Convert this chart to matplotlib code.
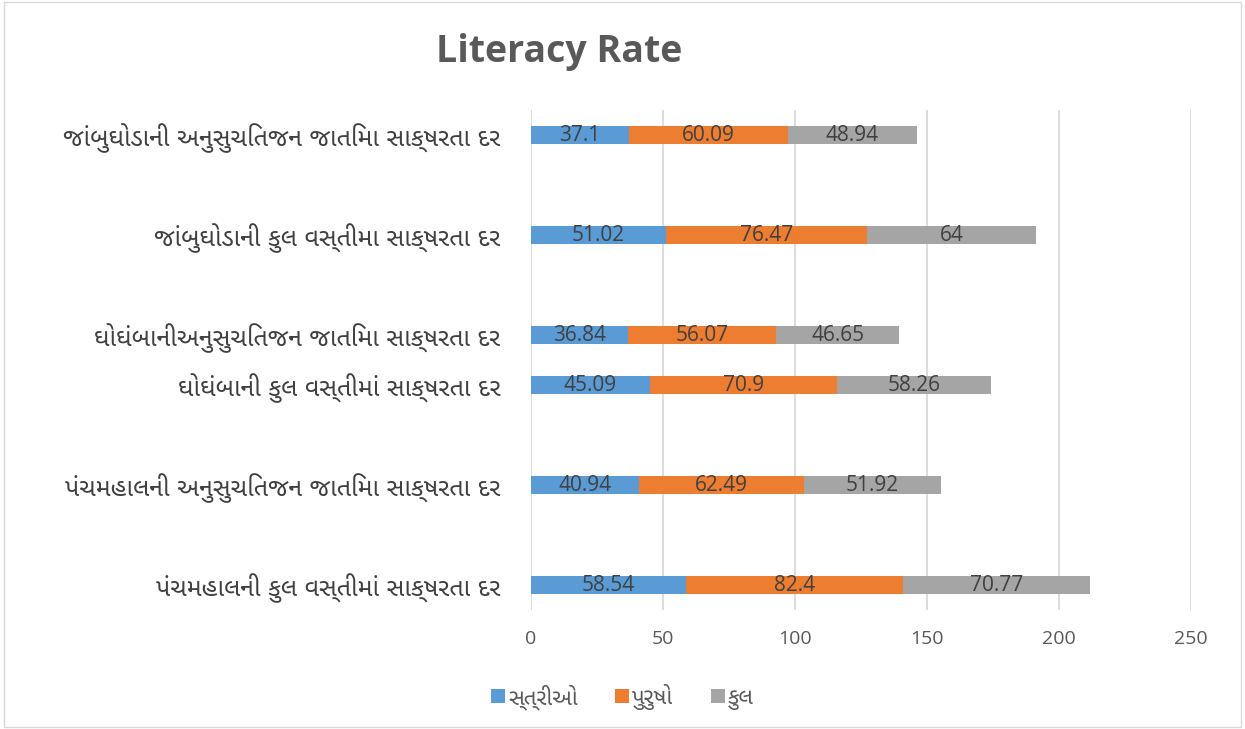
import numpy as np
import matplotlib.pyplot as plt
from matplotlib import font_manager

# categories bottom -> top, blank strings are empty rows in the original chart
categories = ['પંચમહાલની કુલ વસ્તીમાં સાક્ષરતા દર', '',
              'પંચમહાલની અનુસુચિતજન જાતિમા સાક્ષરતા દર', '',
              'ઘોઘંબાની કુલ વસ્તીમાં સાક્ષરતા દર',
              'ઘોઘંબાનીઅનુસુચિતજન જાતિમા સાક્ષરતા દર', '',
              'જાંબુઘોડાની કુલ વસ્તીમા સાક્ષરતા દર', '',
              'જાંબુઘોડાની અનુસુચિતજન જાતિમા સાક્ષરતા દર']
women = [58.54, np.nan, 40.94, np.nan, 45.09, 36.84, np.nan, 51.02, np.nan, 37.1]
men = [82.4, np.nan, 62.49, np.nan, 70.9, 56.07, np.nan, 76.47, np.nan, 60.09]
total = [70.77, np.nan, 51.92, np.nan, 58.26, 46.65, np.nan, 64, np.nan, 48.94]
series_names = ['સ્ત્રીઓ', 'પુરુષો', 'કુલ']
colors = ['#5B9BD5', '#ED7D31', '#A5A5A5']

# look for a font that can draw gujarati
guj = None
for f in font_manager.findSystemFonts():
    if 'gujar' in f.lower():
        try:
            guj = font_manager.FontProperties(fname=f).get_name()
            font_manager.fontManager.addfont(f)
            break
        except Exception:
            pass
fams = ([guj] if guj else []) + ['Noto Sans', 'DejaVu Sans']
plt.rcParams['font.family'] = fams

fig = plt.figure(figsize=(12.45, 7.29), dpi=100)
ax = fig.add_axes([0.4265, 0.163, 0.53, 0.686])

y = np.arange(len(categories))
left = np.zeros(len(categories))
for vals, name, c in zip([women, men, total], series_names, colors):
    v = np.nan_to_num(np.array(vals, dtype=float))
    ax.barh(y, v, left=left, height=0.36, color=c, label=name)
    for yi, l, w, raw in zip(y, left, v, vals):
        if not np.isnan(raw):
            ax.text(l + w / 2, yi, f'{raw:g}', ha='center', va='center',
                    fontsize=15, color='#404040', family=['Open Sans', 'DejaVu Sans'])
    left = left + v

ax.set_xlim(0, 250)
ax.set_ylim(-0.5, len(categories) - 0.5)
ax.set_xticks(np.arange(0, 251, 50))
ax.set_yticks(y)
ax.set_yticklabels(categories, fontsize=18, color='#404040')
ax.tick_params(axis='x', labelsize=14, labelcolor='#595959', length=0, pad=14)
for t in ax.get_xticklabels():
    t.set_family(['Open Sans', 'DejaVu Sans'])
ax.tick_params(axis='y', length=0, pad=22)
ax.xaxis.grid(True, color='#D9D9D9', linewidth=1.3)
ax.set_axisbelow(True)
for s in ax.spines.values():
    s.set_visible(False)

fig.text(0.449, 0.928, 'Literacy Rate', ha='center', va='center', fontsize=27,
         fontweight='bold', color='#595959', family=['Open Sans', 'DejaVu Sans'])

fig.legend(loc='center', bbox_to_anchor=(0.5, 0.044), ncol=3, frameon=False,
           fontsize=16, handlelength=0.6, handleheight=0.6, handletextpad=0.15,
           columnspacing=1.7, labelcolor='#595959')

fig.patches.append(plt.Rectangle((0.003, 0.003), 0.994, 0.994, transform=fig.transFigure,
                                 fill=False, edgecolor='#D9D9D9', linewidth=1))

fig.savefig('out.png', dpi=100)
